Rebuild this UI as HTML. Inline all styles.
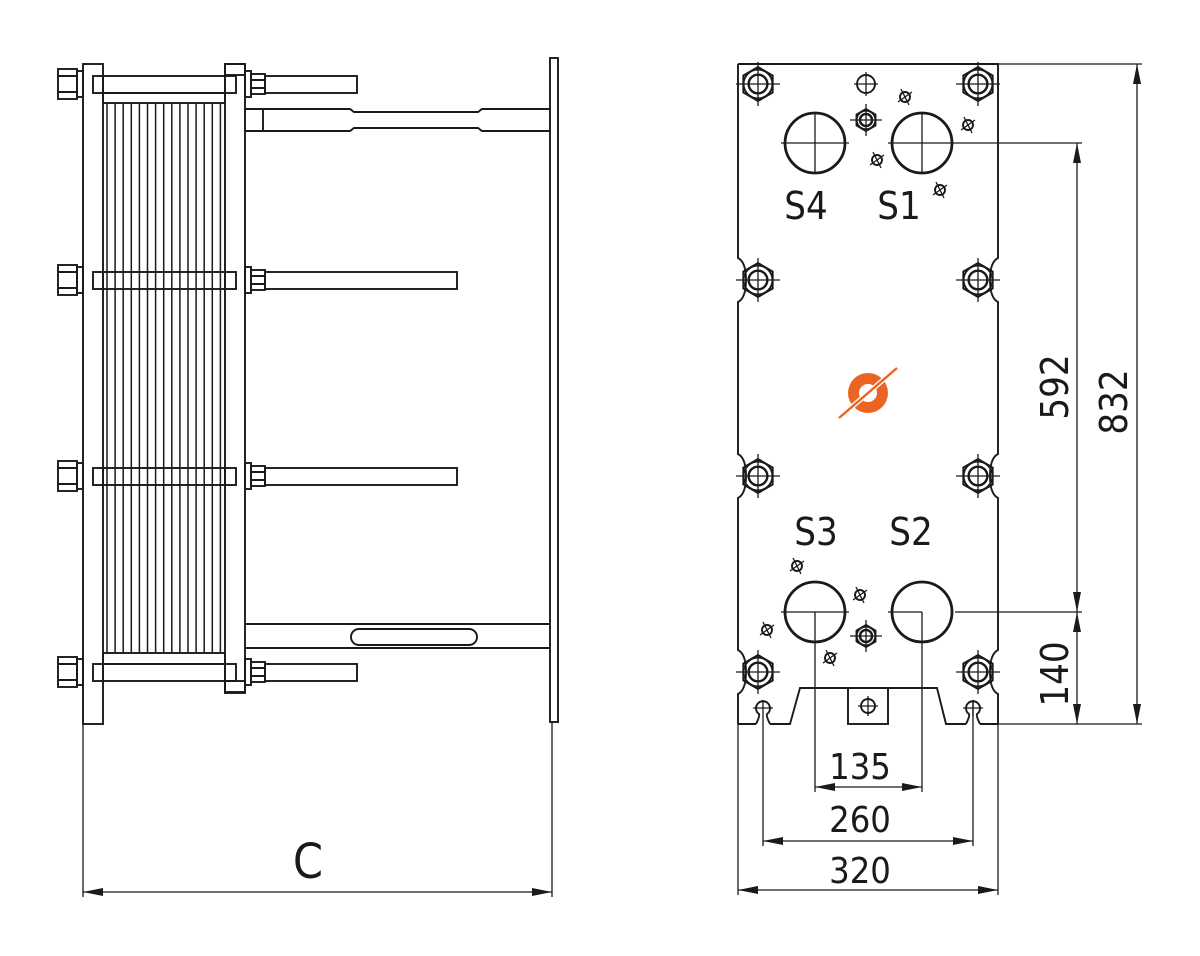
<!DOCTYPE html>
<html><head><meta charset="utf-8"><style>
html,body{margin:0;padding:0;background:#fff;}
svg{display:block;}
text{font-family:"DejaVu Sans Condensed","Liberation Sans Narrow","Liberation Sans",sans-serif;fill:#1a1a1a;}
</style></head><body>
<svg id="s" width="1200" height="956" viewBox="0 0 1200 956" xmlns="http://www.w3.org/2000/svg">
<defs>
<marker id="a" viewBox="0 0 20 8" refX="20" refY="4" markerWidth="20" markerHeight="8" markerUnits="userSpaceOnUse" orient="auto-start-reverse"><path d="M0,0 L20,4 L0,8 Z" fill="#1a1a1a"/></marker>
</defs>
<g id="g" fill="none" stroke="#1a1a1a" stroke-width="1.9">
<rect x="83" y="64" width="20" height="660"/>
<rect x="225" y="64" width="20" height="629"/>
<rect x="103" y="93" width="122" height="10"/>
<rect x="103" y="653" width="122" height="11"/>
<rect x="550" y="58" width="8" height="664"/>
<path d="M245,109 H350 L354,112 H478 L482,109 H550 M245,131 H350 L354,128 H478 L482,131 H550 M263,109 V131"/>
<path d="M245,624 H550 M245,648 H550"/>
<rect x="351" y="629" width="126" height="16" rx="8"/>
<path stroke-width="1.3" d="M83,724 V897 M552,722 V897"/>
<line x1="83" y1="892" x2="552" y2="892" marker-start="url(#a)" marker-end="url(#a)" stroke-width="1.3"/>
<path id="outline"/>
<circle cx="815" cy="143" r="30" stroke-width="2.8"/>
<circle cx="922" cy="143" r="30" stroke-width="2.8"/>
<circle cx="815" cy="612" r="30" stroke-width="2.8"/>
<circle cx="922" cy="612" r="30" stroke-width="2.8"/>
<path stroke-width="1.3" d="M781,143 H849 M815,113 V173 M888,143 H955 M922,113 V173 M781,612 H849 M888,612 H922"/>
<!-- foot -->
<path d="M738,724 H756 M770,724 H790 L800,688 H937 L946,724 H966 M980,724 H998"/>
<rect x="848" y="688" width="40" height="36"/>
<circle cx="868" cy="706" r="7"/><path stroke-width="1.3" d="M858,706 H878 M868,696 V716"/>
<path d="M756,724 Q760,716 759,714 A7,7 0 1 1 767,714 Q766,716 770,724"/>
<path d="M966,724 Q970,716 969,714 A7,7 0 1 1 977,714 Q976,716 980,724"/>
<path stroke-width="1.3" d="M753,708 H773 M973,700 V716 M963,708 H983"/>
<path stroke-width="1.3" d="M998,64 H1142 M998,724 H1142 M955,143 H1082 M955,612 H1082 M815,612 V792 M922,612 V792 M763,700 V846 M973,700 V846 M738,724 V895 M998,724 V895"/>
<g stroke-width="1.3">
<line x1="1137" y1="64" x2="1137" y2="724" marker-start="url(#a)" marker-end="url(#a)"/>
<line x1="1077" y1="143" x2="1077" y2="612" marker-start="url(#a)" marker-end="url(#a)"/>
<line x1="1077" y1="612" x2="1077" y2="724" marker-start="url(#a)" marker-end="url(#a)"/>
<line x1="815" y1="787" x2="922" y2="787" marker-start="url(#a)" marker-end="url(#a)"/>
<line x1="763" y1="841" x2="973" y2="841" marker-start="url(#a)" marker-end="url(#a)"/>
<line x1="738" y1="890" x2="998" y2="890" marker-start="url(#a)" marker-end="url(#a)"/>
</g>
<circle cx="866" cy="84" r="9"/><path stroke-width="1.3" d="M854,84 H878 M866,72 V96"/>
</g>
<g>
<circle cx="868" cy="393" r="20" fill="#ec6424"/>
<circle cx="868" cy="393" r="9" fill="#fff"/>
<line x1="839" y1="418" x2="897" y2="368" stroke="#fff" stroke-width="5"/>
<line x1="839" y1="418" x2="897" y2="368" stroke="#ec6424" stroke-width="2.4"/>
</g>
<text x="806" y="219" font-size="38" text-anchor="middle">S4</text>
<text x="899" y="219" font-size="38" text-anchor="middle">S1</text>
<text x="816" y="545" font-size="38" text-anchor="middle">S3</text>
<text x="911" y="545" font-size="38" text-anchor="middle">S2</text>
<text x="308" y="878" font-size="48" text-anchor="middle">C</text>
<text x="860" y="779" font-size="36" text-anchor="middle">135</text>
<text x="860" y="832" font-size="36" text-anchor="middle">260</text>
<text x="860" y="883" font-size="36" text-anchor="middle">320</text>
<text transform="translate(1068,387) rotate(-90)" font-size="38" text-anchor="middle">592</text>
<text transform="translate(1127,402) rotate(-90)" font-size="38" text-anchor="middle">832</text>
<text transform="translate(1068,674) rotate(-90)" font-size="38" text-anchor="middle">140</text>
</svg>
<script>
var NS="http://www.w3.org/2000/svg",g=document.getElementById("g");
function el(t,a){var e=document.createElementNS(NS,t);for(var k in a)e.setAttribute(k,a[k]);g.appendChild(e);return e;}
for(var x=107;x<224;x+=8.1){el("line",{x1:x,y1:103,x2:x,y2:653,"stroke-width":1.5});}
[84,280,476,672].forEach(function(y,i){
 el("rect",{x:93,y:y-8,width:143,height:17});
 el("path",{d:"M103,"+(y-8)+" V"+(y+9)+" M225,"+(y-8)+" V"+(y+9)});
 var end=(i==0||i==3)?357:457;
 el("rect",{x:265,y:y-8,width:end-265,height:17});
 el("rect",{x:58,y:y-15,width:19,height:30});
 el("path",{d:"M58,"+(y-8)+" H77 M58,"+(y+8)+" H77"});
 el("rect",{x:77,y:y-13,width:6,height:26});
 el("rect",{x:245,y:y-13,width:6,height:26});
 el("rect",{x:251,y:y-10,width:14,height:20});
 el("path",{d:"M251,"+(y-4)+" H265 M251,"+(y+4)+" H265"});
 if(i==0||i==3){el("rect",{x:225,y:(i==0?y-20:y+9),width:20,height:11});}
});
var d="M738,64 H998 ";
var ys=[280,476,672];
d+="V"+(ys[0]-22);
ys.forEach(function(y){d+=" Q990,"+(y-18)+" 990,"+y+" Q990,"+(y+18)+" 998,"+(y+22)+(y==672?"":" V"+(ys[ys.indexOf(y)+1]-22));});
d+=" V724 M738,724 V"+(672+22);
ys.slice().reverse().forEach(function(y,j,arr){d+=" Q746,"+(y+18)+" 746,"+y+" Q746,"+(y-18)+" 738,"+(y-22)+" V"+(j<2?arr[j+1]+22:64);});
document.getElementById("outline").setAttribute("d",d);
function nut(cx,cy,R){
 var p="";for(var k=0;k<6;k++){var a=Math.PI/3*k+Math.PI/6;p+=(k?"L":"M")+(cx+R*Math.cos(a)).toFixed(1)+","+(cy+R*Math.sin(a)).toFixed(1);}
 el("path",{d:p+"Z"});
 el("circle",{cx:cx,cy:cy,r:R*0.85});
 el("circle",{cx:cx,cy:cy,r:R*0.55,"stroke-width":2.4});
 el("path",{d:"M"+(cx-R-5)+","+cy+" H"+(cx+R+5)+" M"+cx+","+(cy-R-5)+" V"+(cy+R+5),"stroke-width":1.3});
}
[84,280,476,672].forEach(function(y){nut(758,y,17);nut(978,y,17);});
nut(866,120,11);nut(866,636,11);
function pin(cx,cy){
 el("circle",{cx:cx,cy:cy,r:5});
 el("path",{d:"M"+(cx-7)+","+(cy+5)+" L"+(cx+7)+","+(cy-5)+" M"+(cx-4)+","+(cy-8)+" L"+(cx+4)+","+(cy+8),"stroke-width":1.3});
}
[[905,97],[968,125],[877,160],[940,190],[797,566],[860,595],[767,630],[830,658]].forEach(function(p){pin(p[0],p[1]);});
</script>
</body></html>
